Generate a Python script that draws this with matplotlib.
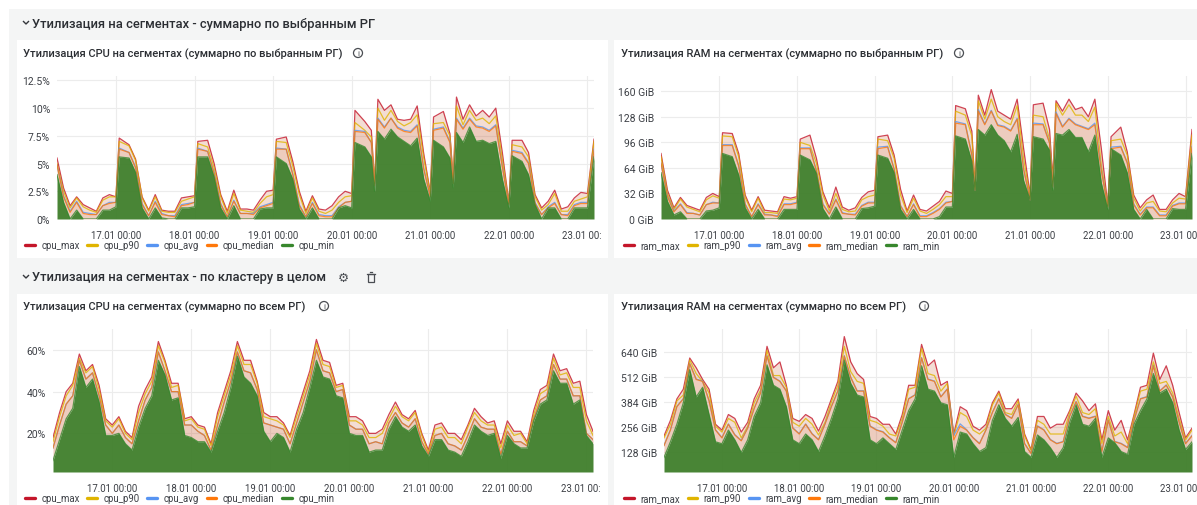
import matplotlib
matplotlib.use("Agg")
import matplotlib.pyplot as plt
from matplotlib.patches import Rectangle, Circle
from matplotlib.lines import Line2D
from matplotlib.transforms import Bbox

plt.rcParams['font.family'] = ['Roboto', 'DejaVu Sans']

# hours from 17.01 00:00
hours_top = [-18,-16,-14,-12,-10,-8,-6,-4,-2,
    0,1,4,6,8,10,12,14,16,18,20,22,
    24,25,28,30,32,34,36,38,40,42,44,46,
    48,49,52,54,56,58,60,62,64,66,68,70,
    72,73,76,78,79,80,82,84,86,88,90,92,94,
    96,97,100,102,103,104,106,108,110,112,114,116,118,
    120,121,124,126,128,130,132,134,136,138,140,142,
    144,146]
hours_bottom = list(range(-18, 147, 2))

day_ticks = [24*i for i in range(7)]
day_labels = ["17.01 00:00","18.01 00:00","19.01 00:00","20.01 00:00","21.01 00:00","22.01 00:00","23.01 00:00"]

cpu_sel_max = [5.5,2.8,1.2,2.0,1.3,1.0,0.7,1.9,2.2,
    2.0,7.3,6.7,5.4,2.0,0.8,2.2,0.8,0.7,0.7,1.9,2.0,
    2.1,7.0,7.1,5.0,2.2,0.7,2.6,0.9,0.9,0.8,1.7,2.5,
    2.6,7.2,7.4,5.2,2.5,0.7,2.1,0.9,0.8,1.2,2.0,2.5,
    2.3,9.8,8.8,8.0,3.2,10.8,9.8,10.3,9.0,8.9,9.0,10.2,5.9,
    2.4,9.2,9.7,7.7,3.6,11.0,9.0,10.3,9.3,9.8,9.2,10.0,6.0,
    1.5,7.1,7.1,6.0,2.2,1.0,1.6,2.6,0.9,1.1,1.9,2.4,
    2.3,7.2]
cpu_sel_p90 = [5.0,2.5,1.0,1.9,1.1,0.8,0.6,1.7,2.0,
    2.0,7.0,6.6,5.3,1.9,0.7,2.0,0.7,0.6,0.6,1.6,1.8,
    2.0,6.8,6.5,4.6,2.0,0.5,2.3,0.8,0.7,0.6,1.4,2.0,
    2.2,7.0,6.9,4.8,2.2,0.5,1.9,0.7,0.5,0.8,1.5,2.0,
    2.1,8.7,8.0,7.4,3.2,10.0,8.9,9.8,8.8,8.4,8.7,9.4,5.5,
    2.3,8.6,8.7,7.5,3.5,10.2,8.5,9.8,8.9,9.1,8.6,9.3,5.4,
    1.4,6.7,6.5,5.6,2.0,0.8,1.3,2.3,0.7,0.7,1.6,1.8,
    2.0,7.0]
cpu_sel_avg = [4.9,2.1,0.7,1.6,0.6,0.5,0.4,1.2,1.5,
    1.5,6.4,6.0,4.7,1.4,0.3,1.6,0.5,0.3,0.3,1.3,1.4,
    1.5,6.4,6.1,4.2,1.4,0.2,1.7,0.5,0.5,0.5,1.1,1.3,
    1.5,6.4,6.3,4.1,1.3,0.2,1.5,0.4,0.3,0.3,1.1,1.5,
    1.6,8.0,7.9,6.9,3.0,9.1,8.3,9.1,8.3,8.0,7.9,8.5,4.6,
    2.0,8.1,8.3,7.0,3.2,9.1,8.2,9.1,8.4,8.3,8.0,8.5,4.8,
    1.3,6.2,6.0,5.1,1.5,0.4,1.1,1.5,0.4,0.4,1.3,1.5,
    1.5,6.3]
cpu_sel_median = [4.9,2.0,0.6,1.5,0.5,0.4,0.4,1.2,1.4,
    1.5,6.3,6.0,4.6,1.3,0.3,1.5,0.4,0.3,0.2,1.2,1.3,
    1.5,6.3,6.1,4.1,1.3,0.2,1.6,0.5,0.5,0.4,1.0,1.2,
    1.4,6.3,6.3,4.0,1.2,0.2,1.4,0.3,0.2,0.2,1.0,1.5,
    1.6,7.9,7.8,6.9,3.0,9.0,8.2,9.1,8.2,7.9,7.8,8.4,4.5,
    2.0,8.0,8.2,6.9,3.2,9.0,8.1,9.0,8.3,8.2,7.9,8.4,4.7,
    1.3,6.1,5.9,5.0,1.4,0.4,1.0,1.4,0.4,0.3,1.2,1.4,
    1.4,6.2]
cpu_sel_min = [4.0,1.5,0.0,0.8,0.0,0.0,0.0,0.8,0.8,
    1.1,5.6,5.5,4.2,1.0,0.0,1.0,0.1,0.0,0.0,1.0,1.0,
    1.1,5.6,5.6,3.8,1.0,0.0,1.2,0.0,0.0,0.0,0.9,1.0,
    1.0,5.6,5.0,3.6,0.9,0.0,1.0,0.0,0.0,0.0,1.0,1.2,
    1.0,6.9,6.5,5.6,2.5,7.9,7.2,8.1,7.4,7.0,6.6,7.3,3.6,
    1.6,7.1,6.5,5.5,2.8,7.8,6.9,8.3,7.0,7.1,6.8,7.0,3.6,
    1.0,5.7,5.2,4.0,1.3,0.0,1.0,1.0,0.0,0.0,1.0,1.0,
    1.0,5.6]

ram_sel_max = [82,36,14,27,17,14,11,27,32,
    28,108,107,82,30,11,28,11,10,9,28,26,
    28,100,105,76,34,14,40,15,11,14,27,34,
    36,103,105,80,37,10,30,12,10,16,22,35,
    32,142,138,110,40,155,130,162,135,130,125,150,88,
    30,143,145,112,50,148,135,150,137,140,128,150,88,
    17,103,115,84,30,14,24,30,12,12,24,32,
    28,112]
ram_sel_p90 = [78,32,12,25,15,12,9,24,29,
    26,104,103,78,27,9,26,8,8,7,25,24,
    26,96,92,70,30,10,32,12,9,10,24,28,
    30,100,98,76,30,8,26,10,7,12,18,28,
    28,135,130,104,38,148,125,150,128,122,118,142,75,
    28,130,128,100,46,145,130,143,130,130,122,140,68,
    16,98,100,80,26,10,20,22,10,9,20,26,
    25,105]
ram_sel_avg = [70,29,10,19,8,7,5,18,21,
    20,93,93,67,19,3,19,6,5,4,19,19,
    21,89,89,61,19,7,25,8,6,6,17,21,
    21,90,91,63,17,3,19,4,4,8,13,21,
    22,122,119,81,36,137,119,136,118,116,111,126,63,
    24,120,119,96,40,134,116,126,119,116,113,120,62,
    15,90,91,71,19,6,15,15,5,5,17,20,
    20,91]
ram_sel_median = [70,28,9,18,7,7,5,18,20,
    20,92,92,66,18,3,18,5,5,3,18,18,
    20,88,88,60,18,6,24,7,6,5,16,20,
    20,88,90,62,16,3,18,3,3,7,12,20,
    22,120,118,80,36,135,118,135,117,115,110,125,62,
    24,118,118,95,40,132,115,125,118,115,112,118,60,
    15,88,90,70,18,5,14,14,4,4,16,19,
    19,90]
ram_sel_min = [58,22,5,9,0,0,0,10,11,
    14,82,78,55,14,0,12,0,0,0,12,12,
    12,80,74,57,13,0,15,0,0,0,13,14,
    16,80,76,58,12,0,12,0,0,0,3,15,
    15,104,100,72,36,112,105,118,105,98,84,106,48,
    24,103,100,86,36,107,105,112,102,102,84,105,45,
    12,88,80,58,12,0,12,0,0,0,13,12,
    12,82]

cpu_all_max = [18,30,40,44,58,50,53,43,27,
    24,28,21,18,33,41,47,64,55,44,44,27,
    28,24,23,15,30,40,50,64,55,55,45,30,
    28,28,25,19,30,40,50,65,55,54,43,44,
    28,28,26,20,20,22,29,35,29,27,31,20,
    12,24,25,20,20,17,24,32,28,25,26,15,
    26,21,21,16,31,41,43,58,50,51,44,45,
    29,21]
cpu_all_p90 = [16,28,38,43,56,49,52,41,26,
    23,27,20,17,30,39,45,62,54,42,43,26,
    27,23,22,14,28,38,48,62,53,53,44,28,
    27,26,24,18,28,38,48,63,53,52,42,43,
    26,26,24,18,18,20,27,33,28,26,30,19,
    11,22,23,18,18,15,23,30,26,24,24,13,
    24,19,20,15,29,39,41,56,48,49,42,42,
    26,19]
cpu_all_avg = [13,24,34,38,55,46,49,38,24,
    20,24,18,15,26,36,42,59,50,40,40,24,
    24,21,19,12,24,35,45,59,50,49,41,25,
    24,23,22,15,25,35,45,60,50,49,40,41,
    24,22,22,15,16,15,25,30,25,23,27,16,
    10,19,20,15,14,12,19,27,23,22,22,10,
    21,16,16,14,27,36,38,53,46,46,38,38,
    20,17]
cpu_all_median = [13,24,34,38,55,46,49,38,24,
    20,24,18,15,26,36,42,59,50,40,40,24,
    24,21,19,12,24,35,45,59,50,49,41,25,
    24,23,22,15,25,35,45,60,50,49,40,41,
    24,22,22,15,16,15,25,30,25,23,27,16,
    10,19,20,15,14,12,19,27,23,22,22,10,
    21,16,16,14,27,36,38,53,46,46,38,38,
    20,17]
cpu_all_min = [7,17,27,32,52,42,46,35,19,
    19,20,15,12,23,32,38,55,48,36,37,19,
    18,16,16,11,21,30,42,57,47,44,38,21,
    16,20,18,11,22,30,42,55,47,46,38,37,
    20,19,19,11,12,12,22,28,23,21,24,14,
    9,17,17,12,11,9,16,24,21,19,20,8,
    19,15,13,13,26,34,36,50,44,44,34,36,
    19,15]

ram_all_max = [210,290,400,450,610,560,500,450,270,
    240,320,300,230,280,400,470,670,560,590,470,300,
    285,320,300,235,310,400,490,720,590,530,500,310,
    300,270,270,220,320,470,470,680,570,600,470,490,
    220,360,340,260,240,270,380,440,350,350,400,220,
    140,310,310,250,270,270,340,430,390,340,375,190,
    340,240,290,190,320,460,470,635,500,570,470,330,
    200,250]
ram_all_p90 = [200,270,390,420,600,530,490,430,260,
    230,300,280,200,260,380,445,650,520,520,460,280,
    260,300,270,215,280,385,470,670,540,490,480,290,
    280,260,220,210,300,450,460,660,530,520,440,480,
    210,330,310,240,220,250,370,430,330,320,390,210,
    135,290,270,220,220,220,330,415,330,320,350,170,
    310,210,230,170,310,440,450,590,480,490,430,300,
    190,240]
ram_all_avg = [162,242,362,402,582,502,492,392,242,
    202,272,217,187,252,352,432,622,512,492,442,252,
    222,272,222,192,272,362,442,622,512,442,442,262,
    242,232,202,177,282,402,422,612,502,492,412,452,
    212,272,242,202,172,242,332,402,322,302,372,172,
    122,262,242,192,172,182,312,387,312,302,312,132,
    292,182,172,152,292,402,412,572,442,472,412,282,
    172,212]
ram_all_median = [160,240,360,400,580,500,490,390,240,
    200,270,215,185,250,350,430,620,510,490,440,250,
    220,270,220,190,270,360,440,620,510,440,440,260,
    240,230,200,175,280,400,420,610,500,490,410,450,
    190,260,240,200,170,240,330,400,320,300,370,170,
    120,260,240,190,170,180,310,385,310,300,310,130,
    290,180,170,150,290,400,410,570,440,470,410,280,
    170,210]
ram_all_min = [100,180,270,380,550,410,460,320,180,
    170,240,190,125,190,310,380,575,470,450,360,190,
    170,220,190,130,210,300,400,600,480,420,410,190,
    170,200,170,140,240,340,400,570,450,440,380,370,
    100,230,220,170,130,150,290,370,300,260,305,130,
    100,215,190,150,100,150,280,370,270,260,300,100,
    200,175,130,115,270,340,400,530,430,450,380,240,
    140,180]

cpu_yticks = [0,2.5,5,7.5,10,12.5]
cpu_ylabels = ["0%","2.5%","5%","7.5%","10%","12.5%"]
ram_yticks = [0,32,64,96,128,160]
ram_ylabels = ["0 GiB","32 GiB","64 GiB","96 GiB","128 GiB","160 GiB"]
cpu_all_yticks = [20,40,60]
cpu_all_ylabels = ["20%","40%","60%"]
ram_all_yticks = [128,256,384,512,640]
ram_all_ylabels = ["128 GiB","256 GiB","384 GiB","512 GiB","640 GiB"]

series_colors = ["#c4162a","#e0b400","#5794f2","#ff780a","#37872d"]
W, H = 1197, 506
fig = plt.figure(figsize=(W/100, H/100), dpi=100, facecolor="white")

bg = fig.add_axes([0, 0, 1, 1])
bg.set_xlim(0, W)
bg.set_ylim(H, 0)
bg.axis("off")
bg.add_patch(Rectangle((9, 10), W-9, H-10, color="#f4f5f5", lw=0))
for x0, y0, x1, y1 in [(17,41,608,259),(614,41,1197,259),(17,295,608,506),(614,295,1197,506)]:
    bg.add_patch(Rectangle((x0, y0), x1-x0, y1-y0, color="white", lw=0))

def chevron(x, y):
    bg.plot([x-2.5, x, x+2.5], [y-1.5, y+1, y-1.5], color="#33363b", lw=1)

def info_icon(x, y):
    bg.add_patch(Circle((x, y), 4.5, fill=False, ec="#4a4d52", lw=0.9))
    bg.text(x, y+0.2, "i", fontsize=6, color="#4a4d52", ha="center", va="center")

chevron(26, 24)
bg.text(32, 24, "Утилизация на сегментах - суммарно по выбранным РГ", fontsize=9.25, fontweight="medium",
    color="#2b2e33", va="center")
chevron(26, 278)
bg.text(32, 278, "Утилизация на сегментах - по кластеру в целом", fontsize=9.25, fontweight="medium",
    color="#2b2e33", va="center")

# gear and trash icons of the second row
bg.text(343, 278, "\u2699", fontsize=9, color="#4a4d52", ha="center", va="center", family="DejaVu Sans")
bg.add_patch(Rectangle((367.5, 275), 6.5, 8, fill=False, ec="#4a4d52", lw=0.9))
bg.plot([366.5, 375], [274.5, 274.5], color="#4a4d52", lw=0.9)
bg.plot([369.5, 372], [273, 273], color="#4a4d52", lw=0.9)

panel_titles = [
    (23, 54, "Утилизация CPU на сегментах (суммарно по выбранным РГ)", 358),
    (621, 54, "Утилизация RAM на сегментах (суммарно по выбранным РГ)", 959),
    (23, 307, "Утилизация CPU на сегментах (суммарно по всем РГ)", 324),
    (621, 307, "Утилизация RAM на сегментах (суммарно по всем РГ)", 924),
]
for x, y, t, ix in panel_titles:
    bg.text(x, y, t, fontsize=8.0, fontweight="medium", color="#2b2e33", va="center")
    info_icon(ix, y)


def draw_panel(box, hours, smax, sp90, savg, smed, smin, ymin, ymax, yticks, ylabels, prefix, leg_x, leg_y, clip_x):
    x0, y0, x1, y1 = box
    ax = fig.add_axes([x0/W, 1-y1/H, (x1-x0)/W, (y1-y0)/H], facecolor="none")
    ax.set_xlim(hours[0], hours[-1])
    ax.set_ylim(ymin, ymax)
    ax.fill_between(hours, smed, smax, color="#c4562a", alpha=0.2, lw=0)
    ax.fill_between(hours, smin, smed, color="#c4562a", alpha=0.3, lw=0)
    ax.fill_between(hours, ymin, smin, color="#3f7f2b", alpha=0.95, lw=0)
    names = ["max","p90","avg","median","min"]
    for vals, col, name in zip([smax, sp90, savg, smed, smin], series_colors, names):
        ax.plot(hours, vals, color=col, lw=0.9, alpha=0.8, label=prefix+"_"+name)
    ax.set_xticks(day_ticks)
    ax.set_xticklabels(day_labels)
    ax.set_yticks(yticks)
    ax.set_yticklabels(ylabels)
    ax.tick_params(axis="y", length=0, labelsize=7.5, labelcolor="#3d4046", pad=5)
    ax.tick_params(axis="x", length=0, labelsize=6.9, labelcolor="#3d4046", pad=8)
    ax.grid(True, color="#ececec", lw=0.8)
    ax.set_axisbelow(True)
    for s in ax.spines.values():
        s.set_visible(False)
    for lab in ax.get_xticklabels():
        lab.set_clip_on(True)
        lab.set_clip_box(Bbox([[0, 0], [clip_x, H]]))
    handles = [Line2D([0], [0], color=c, lw=2.4, solid_capstyle="round") for c in series_colors]
    ax.legend(handles, [prefix+"_"+n for n in names], loc="center left",
        bbox_to_anchor=(leg_x/W, 1-leg_y/H), bbox_transform=fig.transFigure, ncol=5, frameon=False,
        fontsize=6.9, labelcolor="#3d4046", handlelength=1.0, handletextpad=0.7, columnspacing=0.8,
        borderpad=0, borderaxespad=0)
    return ax


draw_panel((57,77,594,220), hours_top, cpu_sel_max, cpu_sel_p90, cpu_sel_avg, cpu_sel_median, cpu_sel_min,
    0, 12.9, cpu_yticks, cpu_ylabels, "cpu", 25, 246, 601)
draw_panel((661,77,1192,220), hours_top, ram_sel_max, ram_sel_p90, ram_sel_avg, ram_sel_median, ram_sel_min,
    0, 179, ram_yticks, ram_ylabels, "ram", 624, 246, 1197)
draw_panel((53,330,593,473), hours_bottom, cpu_all_max, cpu_all_p90, cpu_all_avg, cpu_all_median, cpu_all_min,
    1.5, 70, cpu_all_yticks, cpu_all_ylabels, "cpu", 25, 499, 601)
draw_panel((664,330,1192,473), hours_bottom, ram_all_max, ram_all_p90, ram_all_avg, ram_all_median, ram_all_min,
    25, 759, ram_all_yticks, ram_all_ylabels, "ram", 624, 499, 1197)

fig.savefig("out.png", dpi=100)
